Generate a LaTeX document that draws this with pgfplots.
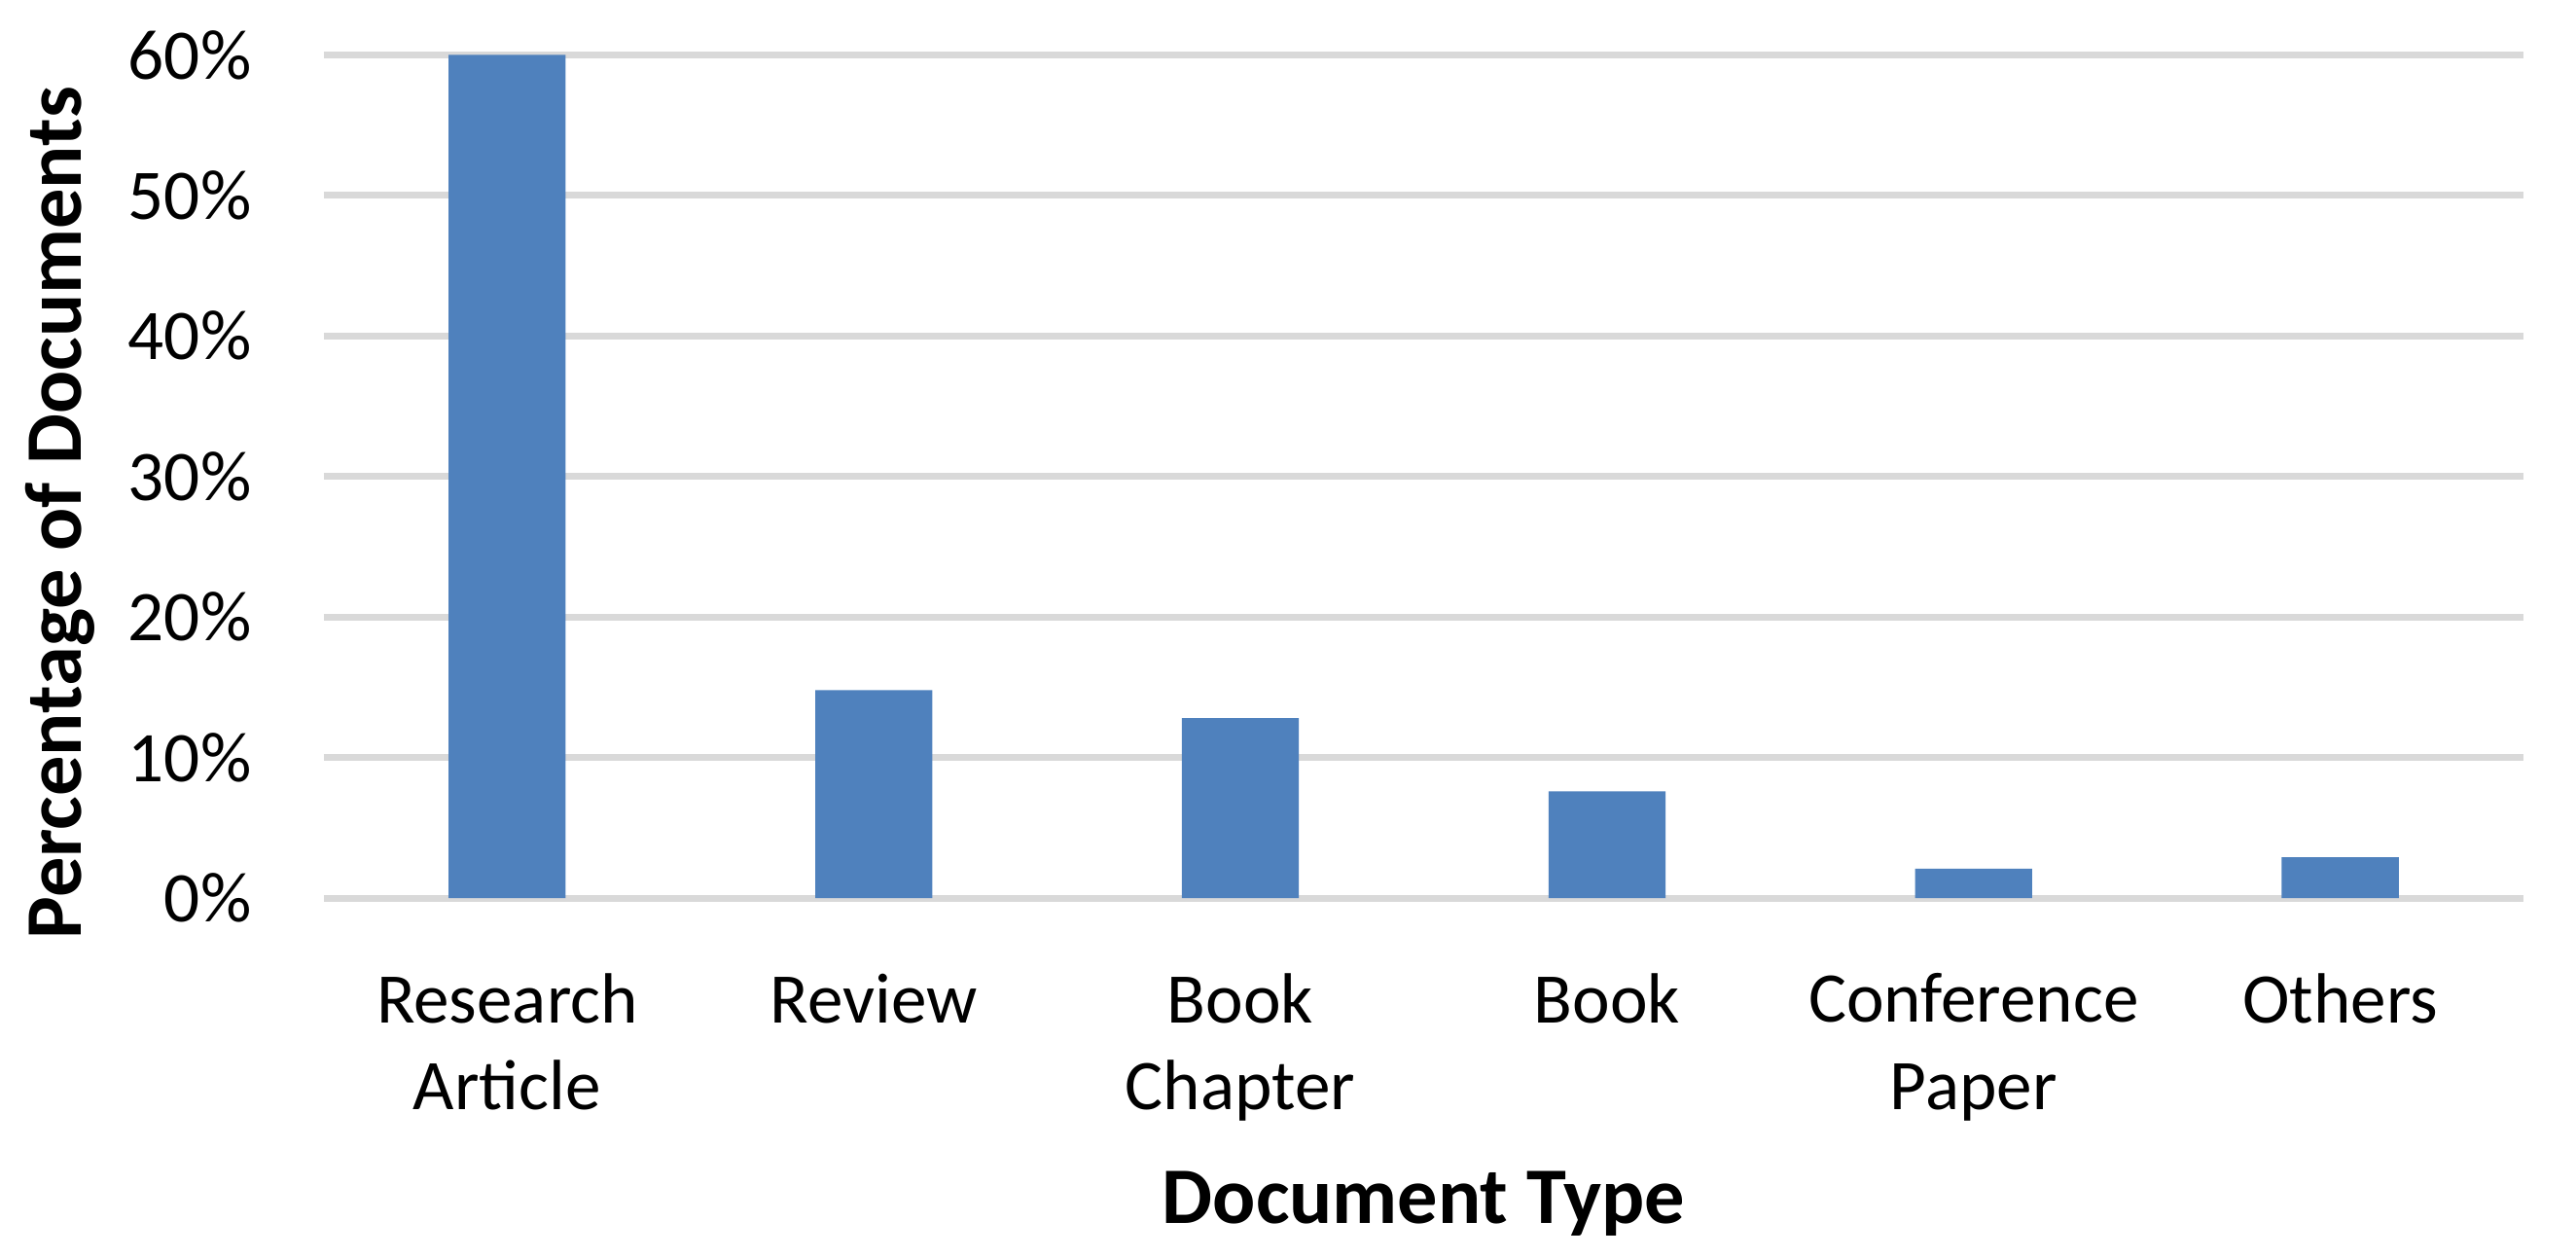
\documentclass[border=0pt]{standalone}
\usepackage{fontspec}
\setmainfont{Carlito}
\usepackage{pgfplots}
\pgfplotsset{compat=1.18}
\definecolor{barblue}{HTML}{4F81BD}
\definecolor{gridgray}{HTML}{D9D9D9}
\begin{document}
\begin{tikzpicture}
\begin{axis}[
  name=ax,
  scale only axis, width=364.7pt, height=139.8pt,
  ybar, bar width=19.4pt,
  xmin=-0.5, xmax=5.5, ymin=0, ymax=60,
  xtick=data,
  xticklabels={{Research\\Article},Review,{Book\\Chapter},Book,{Conference\\Paper},Others},
  ytick={0,10,20,30,40,50,60},
  yticklabels={0\%,10\%,20\%,30\%,40\%,50\%,60\%},
  major tick length=0pt,
  axis lines*=left,
  x axis line style={draw=gridgray, line width=1.1pt},
  y axis line style={draw=none},
  ymajorgrids, grid style={gridgray, line width=1.1pt},
  tick label style={font=\fontsize{11.8}{14.4}\selectfont, text=black},
  xticklabel style={align=center, anchor=north, yshift=-9pt},
  yticklabel style={anchor=east, xshift=-8.5pt},
  xlabel={Document Type},
  ylabel={Percentage of Documents},
  label style={font=\fontsize{13.3}{16}\selectfont\bfseries},
  xlabel style={at={(axis description cs:0.5,0)}, anchor=center, yshift=-50.7pt},
  ylabel style={at={(axis description cs:-0.12,0.457)}, anchor=center, rotate=0},
]
\addplot[draw=none, fill=barblue] coordinates {
  (0,60) (1,14.8) (2,12.8) (3,7.6) (4,2.1) (5,2.9)};
\end{axis}
\path ([shift={(-53.7pt,-58.2pt)}]ax.south west) rectangle ([shift={(8.7pt,9.1pt)}]ax.north east);
\end{tikzpicture}
\end{document}
